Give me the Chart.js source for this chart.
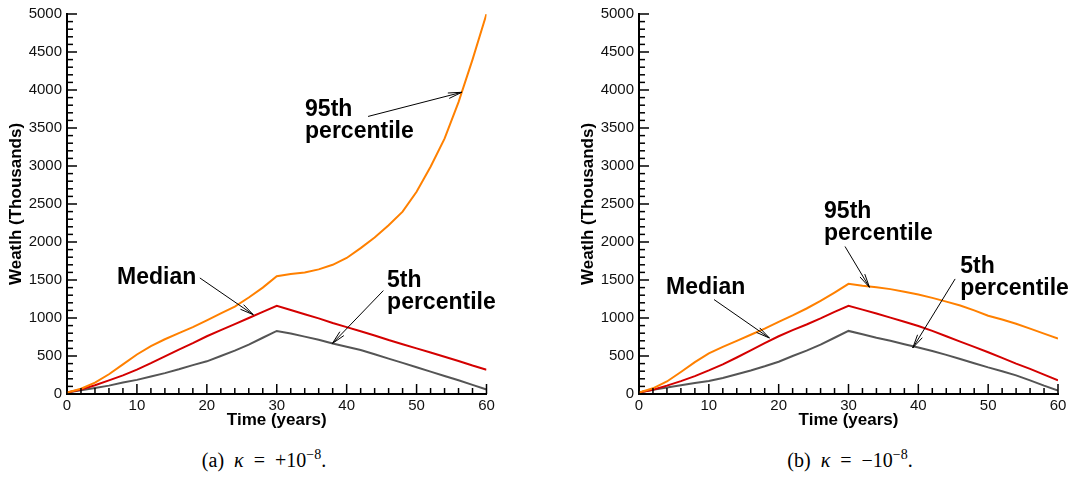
<!DOCTYPE html>
<html>
<head>
<meta charset="utf-8">
<script src="https://cdn.jsdelivr.net/npm/chart.js@4.4.1/dist/chart.umd.min.js"></script>
<style>
  body { margin: 0; background: #fff; }
  #page { position: relative; width: 1076px; height: 489px; overflow: hidden; }
  canvas { position: absolute; top: 0; }
  .cap { position: absolute; top: 447px; width: 280px; text-align: center; white-space: nowrap;
         font-family: 'Liberation Serif', 'DejaVu Serif', serif; font-size: 20px; color: #000; }
  .cap sup { font-size: 14px; }
</style>
</head>
<body>
<div id="page">
  <canvas id="chartA" width="538" height="440" style="left:0"></canvas>
  <canvas id="chartB" width="538" height="440" style="left:538px"></canvas>
  <div class="cap" style="left:124px">(a)&nbsp;&nbsp;<i>κ</i>&nbsp;&nbsp;=&nbsp;&nbsp;+10<sup>−8</sup>.</div>
  <div class="cap" style="left:710px">(b)&nbsp;&nbsp;<i>κ</i>&nbsp;&nbsp;=&nbsp;&nbsp;−10<sup>−8</sup>.</div>
</div>
<script>
// Time axis (years) and wealth percentiles (thousands)
const years = [0, 2, 4, 6, 8, 10, 12, 14, 16, 18, 20, 22, 24, 26, 28, 30,
               32, 34, 36, 38, 40, 42, 44, 46, 48, 50, 52, 54, 56, 58, 60];

// (a) kappa = +1e-8
const p95Pos    = [20, 70, 150, 260, 390, 520, 630, 720, 800, 880, 970, 1060, 1150, 1270, 1400, 1550,
                   1580, 1600, 1640, 1700, 1790, 1920, 2060, 2220, 2400, 2660, 2990, 3360, 3840, 4400, 5000];
const medianPos = [20, 60, 115, 180, 245, 320, 405, 495, 585, 670, 760, 840, 920, 1000, 1080, 1160,
                   1105, 1050, 995, 935, 880, 825, 770, 710, 655, 600, 545, 490, 435, 375, 320];
const p5Pos     = [20, 50, 80, 110, 150, 186, 230, 275, 325, 380, 430, 500, 570, 650, 740, 830,
                   795, 755, 715, 665, 622, 580, 524, 466, 409, 351, 294, 236, 180, 120, 60];

// (b) kappa = -1e-8
const p95Neg    = [20, 75, 165, 290, 420, 535, 620, 700, 780, 860, 950, 1035, 1125, 1225, 1335, 1450,
                   1425, 1405, 1380, 1345, 1310, 1265, 1215, 1165, 1100, 1030, 980, 925, 860, 795, 730];
const medianNeg = [20, 55, 110, 170, 235, 310, 390, 480, 575, 670, 760, 840, 915, 995, 1080, 1160,
                   1110, 1060, 1005, 950, 895, 830, 760, 690, 620, 550, 475, 400, 330, 255, 180];
const p5Neg     = [20, 55, 85, 115, 145, 170, 210, 260, 310, 365, 425, 500, 570, 650, 740, 830,
                   785, 740, 700, 655, 613, 565, 515, 460, 405, 350, 300, 245, 180, 110, 45];

// Axis ticks: majors labelled, minors only marked
const xTickVals = [0, 2, 4, 6, 8, 10, 12, 14, 16, 18, 20, 22, 24, 26, 28, 30,
                   32, 34, 36, 38, 40, 42, 44, 46, 48, 50, 52, 54, 56, 58, 60];
const yTickVals = [];
for (let v = 0; v <= 5000; v += 100) yTickVals.push(v);

// Callouts, placed in data units: text anchor, arrow tail, arrow head
const notesPos = [
  { lines: ['Median'], at: [7.15, 1453], from: [19.0, 1527], to: [26.65, 1043] },
  { lines: ['95th', 'percentile'], at: [34.05, 3652], from: [43.06, 3652], to: [56.47, 3970] },
  { lines: ['5th', 'percentile'], at: [45.78, 1414], from: [45.25, 1361], to: [37.95, 664] }
];
const notesNeg = [
  { lines: ['Median'], at: [3.87, 1322], from: [10.74, 1243], to: [18.67, 737] },
  { lines: ['95th', 'percentile'], at: [26.5, 2317], from: [29.5, 1941], to: [33.0, 1404] },
  { lines: ['5th', 'percentile'], at: [46.0, 1597], from: [45.27, 1514], to: [39.2, 606] }
];

const FONT = "'Liberation Sans', Arial, Helvetica, sans-serif";
Chart.defaults.color = '#000';
Chart.defaults.font.family = FONT;

function drawArrow(ctx, x1, y1, x2, y2) {
  const a = Math.atan2(y2 - y1, x2 - x1), L = 14, w = 0.2;
  ctx.beginPath();
  ctx.moveTo(x1, y1);
  ctx.lineTo(x2, y2);
  ctx.moveTo(x2 - L * Math.cos(a - w), y2 - L * Math.sin(a - w));
  ctx.lineTo(x2, y2);
  ctx.lineTo(x2 - L * Math.cos(a + w), y2 - L * Math.sin(a + w));
  ctx.stroke();
}

// inward tick marks + text callouts with arrows
const decorations = {
  id: 'decorations',
  afterDraw(chart) {
    const ctx = chart.ctx;
    const area = chart.chartArea;
    const sx = chart.scales.x, sy = chart.scales.y;
    ctx.save();
    ctx.fillStyle = '#000';
    xTickVals.forEach(t => {
      const px = sx.getPixelForValue(t);
      const len = t % 10 === 0 ? 10 : 6;
      ctx.fillRect(px - 0.75, area.bottom - len, 1.5, len);
    });
    yTickVals.forEach(v => {
      const py = sy.getPixelForValue(v);
      const len = v % 500 === 0 ? 10 : 6;
      ctx.fillRect(area.left, py - 0.75, len, 1.5);
    });

    const notes = chart.options.plugins.decorations.notes;
    ctx.strokeStyle = '#000';
    ctx.lineWidth = 1;
    ctx.font = 'bold 23px ' + FONT;
    ctx.textBaseline = 'alphabetic';
    ctx.textAlign = 'left';
    notes.forEach(n => {
      const tx = sx.getPixelForValue(n.at[0]), ty = sy.getPixelForValue(n.at[1]);
      n.lines.forEach((s, i) => ctx.fillText(s, tx, ty + i * 22));
      drawArrow(ctx, sx.getPixelForValue(n.from[0]), sy.getPixelForValue(n.from[1]),
                     sx.getPixelForValue(n.to[0]), sy.getPixelForValue(n.to[1]));
    });
    ctx.restore();
  }
};

function series(vals, color) {
  return {
    data: years.map((t, i) => ({ x: t, y: vals[i] })),
    borderColor: color,
    borderWidth: 2,
    pointRadius: 0,
    tension: 0,
    fill: false
  };
}

function makeChart(id, p95, med, p5, notes, pad) {
  return new Chart(document.getElementById(id), {
    type: 'line',
    data: {
      datasets: [
        series(p95, '#ff8000'),
        series(med, '#d40000'),
        series(p5, '#555555')
      ]
    },
    options: {
      responsive: false,
      animation: false,
      layout: { padding: pad },
      plugins: {
        legend: { display: false },
        tooltip: { enabled: false },
        decorations: { notes: notes }
      },
      scales: {
        x: {
          type: 'linear', min: 0, max: 60,
          grid: { display: false, drawTicks: false },
          border: { display: true, color: '#000', width: 2 },
          ticks: { stepSize: 10, padding: 3, color: '#111', font: { size: 15 },
                   callback: v => String(v) },
          title: { display: true, text: 'Time (years)', color: '#000',
                   font: { size: 17, weight: 'bold' }, padding: { top: 0, bottom: 9 } },
          afterFit(s) { s.height = 46; }
        },
        y: {
          type: 'linear', min: 0, max: 5000,
          grid: { display: false, drawTicks: false },
          border: { display: true, color: '#000', width: 2 },
          ticks: { stepSize: 500, padding: 5, color: '#111', font: { size: 15 },
                   callback: v => String(v) },
          title: { display: true, text: 'Weatlh (Thousands)', color: '#000',
                   font: { size: 17, weight: 'bold' }, padding: { top: 6.5, bottom: 0 } },
          afterFit(s) { s.width = 67; }
        }
      }
    },
    plugins: [decorations]
  });
}

makeChart('chartA', p95Pos, medianPos, p5Pos, notesPos, { left: 0, right: 51.5, top: 12, bottom: 0 });
makeChart('chartB', p95Neg, medianNeg, p5Neg, notesNeg, { left: 34, right: 18, top: 12, bottom: 0 });
</script>
</body>
</html>
